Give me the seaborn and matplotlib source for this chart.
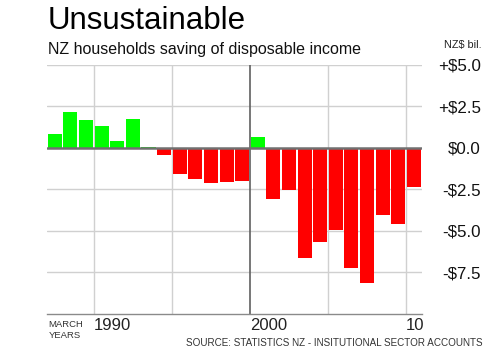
import matplotlib
matplotlib.use("Agg")
import matplotlib.pyplot as plt
import seaborn as sns
import pandas as pd

# ---- data ----
years = list(range(1987, 2011))
savings = [0.86, 2.16, 1.66, 1.34, 0.40, 1.76, 0.05, -0.40, -1.56, -1.86, -2.10, -2.05,
           -1.98, 0.68, -3.08, -2.56, -6.65, -5.69, -4.95, -7.21, -8.11, -4.05, -4.56, -2.38]
ytick_vals = [5.0, 2.5, 0.0, -2.5, -5.0, -7.5]
ytick_labels = ["+$5.0", "+$2.5", "$0.0", "-$2.5", "-$5.0", "-$7.5"]
xtick_vals = [1990, 2000, 2010]
xtick_labels = ["1990", "2000", "10"]
grid_years = [1990, 1995, 2005, 2010]

title = "Unsustainable"
subtitle = "NZ households saving of disposable income"
unit = "NZ$ bil."
source = "SOURCE: STATISTICS NZ - INSITUTIONAL SECTOR ACCOUNTS"

sns.set_theme(style="white")
plt.rcParams["font.family"] = ["Liberation Sans", "DejaVu Sans"]

df = pd.DataFrame({"year": years, "value": savings})
df["pos"] = df["year"] + 0.5
df["sign"] = ["pos" if v >= 0 else "neg" for v in df["value"]]

fig = plt.figure(figsize=(5, 3.5), dpi=100)
ax = fig.add_axes([0.094, 0.1029, 0.7494, 0.7114])

# grid lines
for yv in ytick_vals:
    if yv != 0:
        ax.axhline(yv, color="#d0d0d0", lw=1, zorder=0)
for gx in grid_years:
    ax.axvline(gx, color="#d0d0d0", lw=1, zorder=0)
ax.axvline(2000, color="#606060", lw=1.2, zorder=0.5)

sns.barplot(data=df, x="pos", y="value", hue="sign",
            palette={"pos": "#00ff00", "neg": "#ff0000"},
            native_scale=True, dodge=False, legend=False, width=0.9,
            saturation=1, linewidth=0, ax=ax, zorder=2)

ax.axhline(0, color="#707070", lw=1.8, zorder=3)

ax.set_xlim(1987, 2011)
ax.set_ylim(-10, 5)
ax.set_xlabel("")
ax.set_ylabel("")

for s in ["top", "left", "right"]:
    ax.spines[s].set_visible(False)
ax.spines["bottom"].set_color("#8a8a8a")
ax.spines["bottom"].set_linewidth(1)

ax.set_yticks(ytick_vals)
ax.set_yticklabels(ytick_labels)
ax.tick_params(axis="y", left=False, labelleft=False, right=False, labelright=True,
               length=0, pad=42.7, labelsize=12.2, labelcolor="#111111")
for lab in ax.get_yticklabels():
    lab.set_horizontalalignment("right")

ax.set_xticks(xtick_vals)
ax.set_xticklabels(xtick_labels)
ax.tick_params(axis="x", bottom=False, length=0, pad=3, labelsize=12, labelcolor="#222222")
for lab in ax.get_xticklabels():
    lab.set_horizontalalignment("left")

fig.text(0.095, 0.918, title, fontsize=22.5, color="#000000", va="baseline", ha="left")
fig.text(0.096, 0.8457, subtitle, fontsize=11.5, color="#111111", va="baseline", ha="left")
fig.text(0.963, 0.862, unit, fontsize=7.8, color="#222222", va="baseline", ha="right")
fig.text(0.097, 0.0649, "MARCH", fontsize=6.8, color="#333333", va="baseline", ha="left")
fig.text(0.097, 0.0334, "YEARS", fontsize=6.8, color="#333333", va="baseline", ha="left")
fig.text(0.966, 0.0114, source, fontsize=7.15, color="#333333", va="baseline", ha="right")

fig.savefig("out.png", dpi=100, facecolor="white")
